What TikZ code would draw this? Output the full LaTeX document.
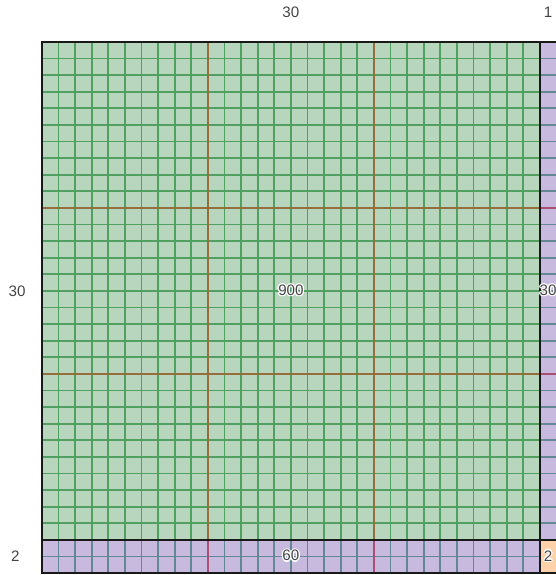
\documentclass[tikz,border=0pt]{standalone}
\usepackage{fontspec}
\setmainfont{Liberation Sans}
\usepackage{contour}
\contourlength{1.1pt}
\contournumber{8}

\definecolor{bigfill}{HTML}{B8D6BE}
\definecolor{bigline}{HTML}{50A060}
\definecolor{tenline}{HTML}{966E3C}
\definecolor{stripfill}{HTML}{C8BADE}
\definecolor{stripline}{HTML}{648796}
\definecolor{striptenline}{HTML}{AA5078}
\definecolor{cornerfill}{HTML}{FFD2AA}
\definecolor{labelgrey}{HTML}{444444}

\tikzset{
  gridline/.style={line width=1.5pt, bigline},
  tengrid/.style={line width=1.5pt, tenline},
  stripgrid/.style={line width=1.5pt, stripline},
  striptengrid/.style={line width=1.5pt, striptenline},
  border/.style={line width=2pt, black!90},
  sidelabel/.style={text=labelgrey, font=\fontsize{13}{15}\selectfont},
  arealabel/.style={text=labelgrey, font=\fontsize{13}{15}\selectfont}
}

\begin{document}
\begin{tikzpicture}[x=0.5cm, y=0.5cm]
    \useasboundingbox (-2.53,-0.12) rectangle (30.92,34.53);

    % corners of the blocks
    \coordinate (O) at (0, 0);
    \coordinate (S) at (0, 2);
    \coordinate (G) at (30, 32);
    \coordinate (R) at (31, 32);
    \coordinate (K) at (30, 0);

    % fills
    \fill[bigfill] (S) rectangle (G);
    \fill[stripfill] (O) rectangle (30, 2);
    \fill[stripfill] (30, 2) rectangle (R);
    \fill[cornerfill] (K) rectangle (31, 2);

    % unit lines of the 30 x 30 square
    \foreach \i in {1,...,29} {
        \draw[gridline] (\i, 2) -- (\i, 32);
        \draw[gridline] (0, \i+2) -- (30, \i+2);
    }
    % unit lines of the strips
    \foreach \i in {1,...,29} {
        \draw[stripgrid] (\i, 0) -- (\i, 2);
        \draw[stripgrid] (30, \i+2) -- (31, \i+2);
    }
    \draw[stripgrid] (0, 1) -- (30, 1);

    % every tenth line
    \foreach \t in {10, 20} {
        \draw[tengrid] (\t, 2) -- (\t, 32);
        \draw[tengrid] (0, \t+2) -- (30, \t+2);
        \draw[striptengrid] (\t, 0) -- (\t, 2);
        \draw[striptengrid] (30, \t+2) -- (31, \t+2);
    }

    % outlines (right edge lies past the cut)
    \draw[border] (31, 0) -- (O) -- (0, 32) -- (R);
    \draw[border] (K) -- (G);
    \draw[border] (S) -- (31, 2);

    % side labels
    \node[sidelabel] (top30) at (15, 33.8) {30};
    \node[sidelabel] (top1) at (30.5, 33.8) {1};
    \node[sidelabel] (left30) at (-1.5, 17) {30};
    \node[sidelabel] (left2) at (-1.6, 1) {2};

    % area labels
    \node[arealabel] (area900) at (15, 17) {\contour{white}{900}};
    \node[arealabel] (area30) at (30.5, 17) {\contour{white}{30}};
    \node[arealabel] (area60) at (15, 1) {\contour{white}{60}};
    \node[arealabel] (area2) at (30.5, 1) {\contour{white}{2}};

\end{tikzpicture}
\end{document}
